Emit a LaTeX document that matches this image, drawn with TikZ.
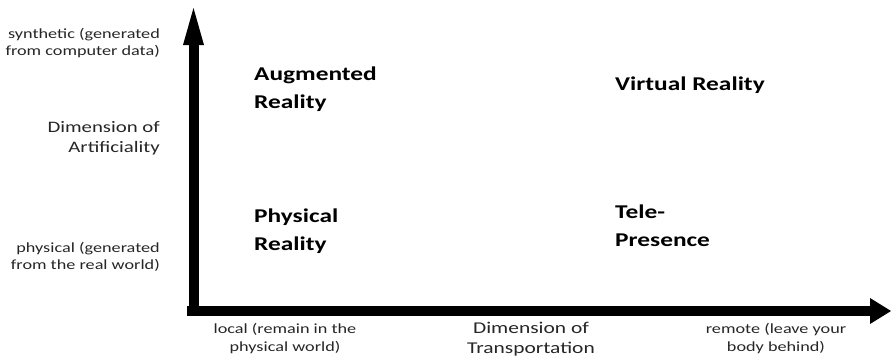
\documentclass[tikz,border=0pt]{standalone}
\usepackage{fontspec}
\setmainfont{Carlito}[FakeStretch=1.3]
\begin{document}
\begin{tikzpicture}[x=1pt,y=-1pt,
  side/.style={align=right,anchor=east,font=\fontsize{14}{17}\selectfont,text=black!85,inner sep=0pt},
  sidebig/.style={align=right,anchor=east,font=\fontsize{16}{20}\selectfont,text=black!85,inner sep=0pt},
  bottom/.style={align=center,font=\fontsize{14}{18}\selectfont,text=black!85,inner sep=0pt},
  bottombig/.style={align=center,font=\fontsize{16.5}{20}\selectfont,text=black!85,inner sep=0pt},
  quad/.style={align=left,anchor=west,font=\bfseries\fontsize{19.5}{28}\selectfont,inner sep=0pt}]
\useasboundingbox (0,0) rectangle (891,359);
% axes
\coordinate (O) at (187,311);
\coordinate (Ytop) at (193.5,45);
\coordinate (Xend) at (871,311);
\draw[line width=10pt] (193.5,316) -- (Ytop);
\fill (183,45) -- (193.5,8) -- (204,45) -- cycle;
\draw[line width=10pt] (O) -- (Xend);
\fill (870,298) -- (891,311) -- (870,324) -- cycle;
% side labels
\node[side] (syn) at (160,43) {synthetic (generated\\from computer data)};
\node[sidebig] (dima) at (160,138) {Dimension of\\Artificiality};
\node[side] (phys) at (160,257) {physical (generated\\from the real world)};
% bottom labels
\node[bottom] (loc) at (285,339) {local (remain in the\\physical world)};
\node[bottombig] (dimt) at (531,339) {Dimension of\\Transportation};
\node[bottom] (rem) at (776,339) {remote (leave your\\body behind)};
% quadrants
\node[quad] (ar) at (254,89) {Augmented\\Reality};
\node[quad] (vr) at (615,85) {Virtual Reality};
\node[quad] (pr) at (254,231) {Physical\\Reality};
\node[quad] (tp) at (615,226) {Tele-\\Presence};
\end{tikzpicture}
\end{document}
